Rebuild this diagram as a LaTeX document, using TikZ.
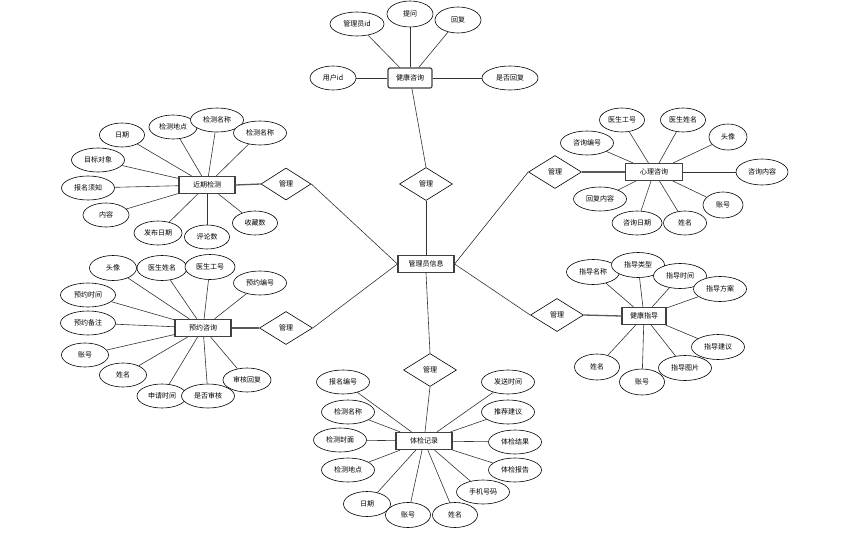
\documentclass[tikz,border=0pt]{standalone}
\usepackage{fontspec}
\setmainfont{Noto Sans CJK SC}
\usetikzlibrary{shapes.geometric}
\begin{document}
\begin{tikzpicture}[x=1pt,y=-1pt,
  every node/.style={font=\fontsize{7}{8}\selectfont, inner sep=0pt},
  ent/.style={draw=black!75, line width=1.2pt, rectangle, minimum width=56, minimum height=17},
  attr/.style={draw=black, line width=0.6pt, ellipse, minimum width=50, minimum height=24, fill=white},
  rel/.style={draw=black, line width=0.6pt, diamond, minimum width=53, minimum height=33, fill=white},
  ln/.style={draw=black!80, line width=0.6pt},
  tk/.style={draw=black!65, line width=1.3pt}]
\useasboundingbox (0,0) rectangle (864,535);
% center
\node[ent] (adm) at (426,264) {管理员信息};
% 健康咨询
\node[ent, rounded corners=2pt, minimum width=44, minimum height=20] (jkzx) at (410,78) {健康咨询};
\node[attr, minimum width=54] (a1) at (357,24) {管理员id};
\node[attr, minimum width=46, minimum height=26] (a2) at (410,14) {提问};
\node[attr, minimum width=46, minimum height=26] (a3) at (458,20) {回复};
\node[attr, minimum width=46] (a4) at (333,78) {用户id};
\node[attr, minimum width=56] (a5) at (510,78) {是否回复};
\foreach \n in {a1,a2,a3,a4,a5} \draw[ln] (\n) -- (jkzx);
\node[rel] (r1) at (426,184) {管理};
\draw[ln] (r1.north) -- (jkzx);
\draw[ln] (r1.south) -- (adm.north);
% 近期检测
\node[ent] (jq) at (207,185) {近期检测};
\node[attr, minimum width=45] (b1) at (122,135) {日期};
\node[attr, minimum width=48] (b2) at (173,127) {检测地点};
\node[attr, minimum width=53] (b3) at (217,120) {检测名称};
\node[attr, minimum width=53] (b4) at (260,133) {检测名称};
\node[attr, minimum width=53] (b5) at (98,160) {目标对象};
\node[attr, minimum width=53] (b6) at (88,188) {报名须知};
\node[attr, minimum width=46] (b7) at (106,215) {内容};
\node[attr, minimum width=48] (b8) at (158,233) {发布日期};
\node[attr, minimum width=45] (b9) at (207,237) {评论数};
\node[attr, minimum width=45] (b10) at (255,223) {收藏数};
\foreach \n in {b1,b2,b3,b4,b5,b6,b7,b8,b9,b10} \draw[ln] (\n) -- (jq);
\node[rel, minimum width=50, minimum height=32] (r2) at (286,184) {管理};
\draw[tk] (jq.east) -- (r2.west);
\draw[ln] (r2.east) -- (adm.west);
% 预约咨询
\node[ent] (yy) at (203,328) {预约咨询};
\node[attr, minimum width=47, minimum height=25] (c1) at (113,268) {头像};
\node[attr, minimum width=50, minimum height=25] (c2) at (162,268) {医生姓名};
\node[attr, minimum width=50, minimum height=25] (c3) at (210,267) {医生工号};
\node[attr, minimum width=53] (c4) at (260,283) {预约编号};
\node[attr, minimum width=55] (c5) at (88,295) {预约时间};
\node[attr, minimum width=55] (c6) at (88,323) {预约备注};
\node[attr, minimum width=47] (c7) at (85,355) {账号};
\node[attr, minimum width=47] (c8) at (123,375) {姓名};
\node[attr, minimum width=50] (c9) at (162,396) {申请时间};
\node[attr, minimum width=53] (c10) at (208,396) {是否审核};
\node[attr, minimum width=48] (c11) at (247,380) {审核回复};
\foreach \n in {c1,c2,c3,c4,c5,c6,c7,c8,c9,c10,c11} \draw[ln] (\n) -- (yy);
\node[rel] (r3) at (286,328) {管理};
\draw[tk] (yy.east) -- (r3.west);
\draw[ln] (r3.east) -- (adm.west);
% 心理咨询
\node[ent, minimum width=57] (xl) at (654,172) {心理咨询};
\node[attr, minimum width=45] (d1) at (622,120) {医生工号};
\node[attr, minimum width=45] (d2) at (683,120) {医生姓名};
\node[attr, minimum width=38, minimum height=26] (d3) at (728,137) {头像};
\node[attr, minimum width=53] (d4) at (587,143) {咨询编号};
\node[attr, minimum width=52, minimum height=26] (d5) at (762,172) {咨询内容};
\node[attr, minimum width=53] (d6) at (600,199) {回复内容};
\node[attr, minimum width=40, minimum height=26] (d7) at (723,205) {账号};
\node[attr, minimum width=50] (d8) at (637,223) {咨询日期};
\node[attr, minimum width=43] (d9) at (685,223) {姓名};
\foreach \n in {d1,d2,d3,d4,d5,d6,d7,d8,d9} \draw[ln] (\n) -- (xl);
\node[rel] (r4) at (555,172) {管理};
\draw[tk] (r4.east) -- (xl.west);
\draw[ln] (r4.west) -- (adm.east);
% 健康指导
\node[ent, minimum width=44] (zd) at (644,316) {健康指导};
\node[attr, minimum width=53, minimum height=25] (e1) at (593,272) {指导名称};
\node[attr, minimum width=53, minimum height=25] (e2) at (638,265) {指导类型};
\node[attr, minimum width=53, minimum height=25] (e3) at (680,276) {指导时间};
\node[attr, minimum width=53, minimum height=25] (e4) at (720,289) {指导方案};
\node[attr, minimum width=53, minimum height=25] (e5) at (718,347) {指导建议};
\node[attr, minimum width=53, minimum height=25] (e6) at (685,368) {指导图片};
\node[attr, minimum width=45, minimum height=26] (e7) at (642,382) {账号};
\node[attr, minimum width=45, minimum height=26] (e8) at (597,367) {姓名};
\foreach \n in {e1,e2,e3,e4,e5,e6,e7,e8} \draw[ln] (\n) -- (zd);
\node[rel] (r5) at (557,315) {管理};
\draw[tk] (r5.east) -- (zd.west);
\draw[ln] (r5.west) -- (adm.east);
% 体检记录
\node[ent] (tj) at (424,441) {体检记录};
\node[attr, minimum width=53] (f1) at (343,382) {报名编号};
\node[attr, minimum width=53] (f2) at (348,412) {检测名称};
\node[attr, minimum width=53] (f3) at (340,440) {检测封面};
\node[attr, minimum width=53] (f4) at (348,470) {检测地点};
\node[attr, minimum width=47, minimum height=25] (f5) at (367,504) {日期};
\node[attr, minimum width=45, minimum height=25] (f6) at (408,515) {账号};
\node[attr, minimum width=45, minimum height=25] (f7) at (455,515) {姓名};
\node[attr, minimum width=53] (f8) at (483,492) {手机号码};
\node[attr, minimum width=53] (f9) at (515,470) {体检报告};
\node[attr, minimum width=53] (f10) at (515,442) {体检结果};
\node[attr, minimum width=53] (f11) at (508,412) {推荐建议};
\node[attr, minimum width=53] (f12) at (508,382) {发送时间};
\foreach \n in {f1,f2,f3,f4,f5,f6,f7,f8,f9,f10,f11,f12} \draw[ln] (\n) -- (tj);
\node[rel] (r6) at (430,370) {管理};
\draw[ln] (r6.south) -- (tj);
\draw[ln] (adm.south) -- (r6.north);
\end{tikzpicture}
\end{document}
